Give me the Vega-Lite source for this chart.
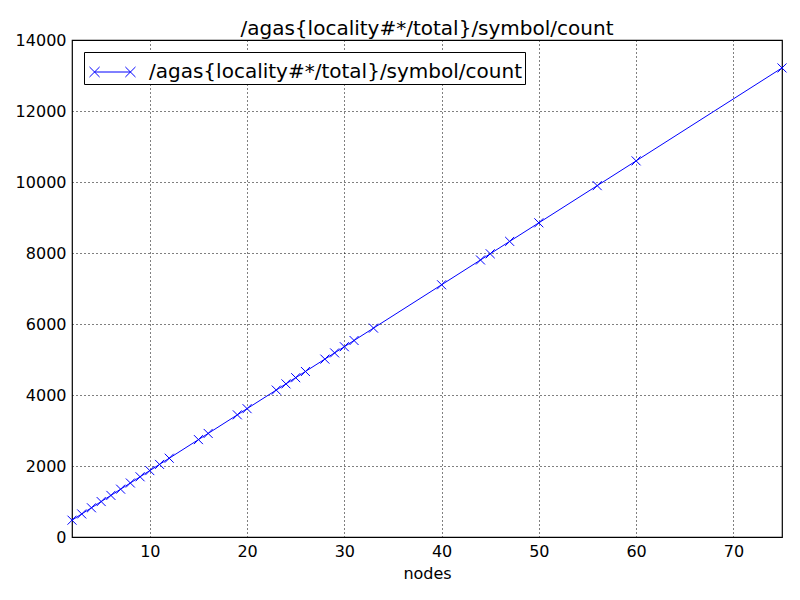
{
  "$schema": "https://vega.github.io/schema/vega-lite/v6.json",
  "autosize": "none",
  "width": 710,
  "height": 497,
  "padding": {"left": 72, "top": 40, "right": 18, "bottom": 63},
  "background": "white",
  "title": {"text": "/agas{locality#*/total}/symbol/count", "font": "DejaVu Sans", "fontSize": 20, "fontWeight": "normal", "color": "black", "offset": -7, "anchor": "middle"},
  "config": {
    "view": {"stroke": "black", "strokeWidth": 1.2},
    "font": "DejaVu Sans",
    "axis": {"labelFont": "DejaVu Sans", "titleFont": "DejaVu Sans", "labelFontSize": 16, "titleFontSize": 16, "titleFontWeight": "normal", "labelColor": "black", "titleColor": "black", "grid": true, "gridColor": "black", "gridDash": [1, 3], "gridOpacity": 1, "gridWidth": 1, "domain": false, "tickColor": "black", "tickSize": 0, "labelPadding": 6}
  },
  "data": {"values": [
    {"nodes": 2, "count": 474, "series": "/agas{locality#*/total}/symbol/count"},
    {"nodes": 3, "count": 649, "series": "/agas{locality#*/total}/symbol/count"},
    {"nodes": 4, "count": 823, "series": "/agas{locality#*/total}/symbol/count"},
    {"nodes": 5, "count": 998, "series": "/agas{locality#*/total}/symbol/count"},
    {"nodes": 6, "count": 1172, "series": "/agas{locality#*/total}/symbol/count"},
    {"nodes": 7, "count": 1347, "series": "/agas{locality#*/total}/symbol/count"},
    {"nodes": 8, "count": 1521, "series": "/agas{locality#*/total}/symbol/count"},
    {"nodes": 9, "count": 1696, "series": "/agas{locality#*/total}/symbol/count"},
    {"nodes": 10, "count": 1870, "series": "/agas{locality#*/total}/symbol/count"},
    {"nodes": 11, "count": 2045, "series": "/agas{locality#*/total}/symbol/count"},
    {"nodes": 12, "count": 2219, "series": "/agas{locality#*/total}/symbol/count"},
    {"nodes": 15, "count": 2743, "series": "/agas{locality#*/total}/symbol/count"},
    {"nodes": 16, "count": 2917, "series": "/agas{locality#*/total}/symbol/count"},
    {"nodes": 19, "count": 3441, "series": "/agas{locality#*/total}/symbol/count"},
    {"nodes": 20, "count": 3615, "series": "/agas{locality#*/total}/symbol/count"},
    {"nodes": 23, "count": 4139, "series": "/agas{locality#*/total}/symbol/count"},
    {"nodes": 24, "count": 4313, "series": "/agas{locality#*/total}/symbol/count"},
    {"nodes": 25, "count": 4488, "series": "/agas{locality#*/total}/symbol/count"},
    {"nodes": 26, "count": 4662, "series": "/agas{locality#*/total}/symbol/count"},
    {"nodes": 28, "count": 5011, "series": "/agas{locality#*/total}/symbol/count"},
    {"nodes": 29, "count": 5186, "series": "/agas{locality#*/total}/symbol/count"},
    {"nodes": 30, "count": 5360, "series": "/agas{locality#*/total}/symbol/count"},
    {"nodes": 31, "count": 5535, "series": "/agas{locality#*/total}/symbol/count"},
    {"nodes": 33, "count": 5884, "series": "/agas{locality#*/total}/symbol/count"},
    {"nodes": 40, "count": 7105, "series": "/agas{locality#*/total}/symbol/count"},
    {"nodes": 44, "count": 7803, "series": "/agas{locality#*/total}/symbol/count"},
    {"nodes": 45, "count": 7978, "series": "/agas{locality#*/total}/symbol/count"},
    {"nodes": 47, "count": 8327, "series": "/agas{locality#*/total}/symbol/count"},
    {"nodes": 50, "count": 8850, "series": "/agas{locality#*/total}/symbol/count"},
    {"nodes": 56, "count": 9897, "series": "/agas{locality#*/total}/symbol/count"},
    {"nodes": 60, "count": 10595, "series": "/agas{locality#*/total}/symbol/count"},
    {"nodes": 75, "count": 13213, "series": "/agas{locality#*/total}/symbol/count"}
  ]},
  "encoding": {
    "x": {"field": "nodes", "type": "quantitative", "title": "nodes", "scale": {"domain": [2, 75], "nice": false, "zero": false}, "axis": {"values": [10, 20, 30, 40, 50, 60, 70], "titlePadding": 6}},
    "y": {"field": "count", "type": "quantitative", "title": null, "scale": {"domain": [0, 14000], "nice": false}, "axis": {"values": [0, 2000, 4000, 6000, 8000, 10000, 12000, 14000], "format": "d"}},
    "color": {"field": "series", "type": "nominal", "scale": {"range": ["#0000ff"]}, "legend": {"title": null, "orient": "none", "legendX": 12, "legendY": 12, "strokeColor": "black", "fillColor": "white", "padding": 2, "labelFont": "DejaVu Sans", "labelFontSize": 20, "labelColor": "black", "symbolType": "M-0.54,0L1.51,0M-0.83,-0.29L-0.25,0.29M-0.83,0.29L-0.25,-0.29M1.22,-0.29L1.8,0.29M1.22,0.29L1.8,-0.29", "symbolSize": 1225, "symbolStrokeWidth": 1, "symbolFillColor": "transparent", "symbolStrokeColor": "#0000ff", "labelOffset": 27, "labelLimit": 600}}
  },
  "layer": [
    {"mark": {"type": "line", "strokeWidth": 1, "color": "#0000ff"}},
    {"mark": {"type": "point", "shape": "M-1,-1L1,1M-1,1L1,-1", "filled": false, "size": 81, "strokeWidth": 1, "color": "#0000ff", "opacity": 1}}
  ]
}
